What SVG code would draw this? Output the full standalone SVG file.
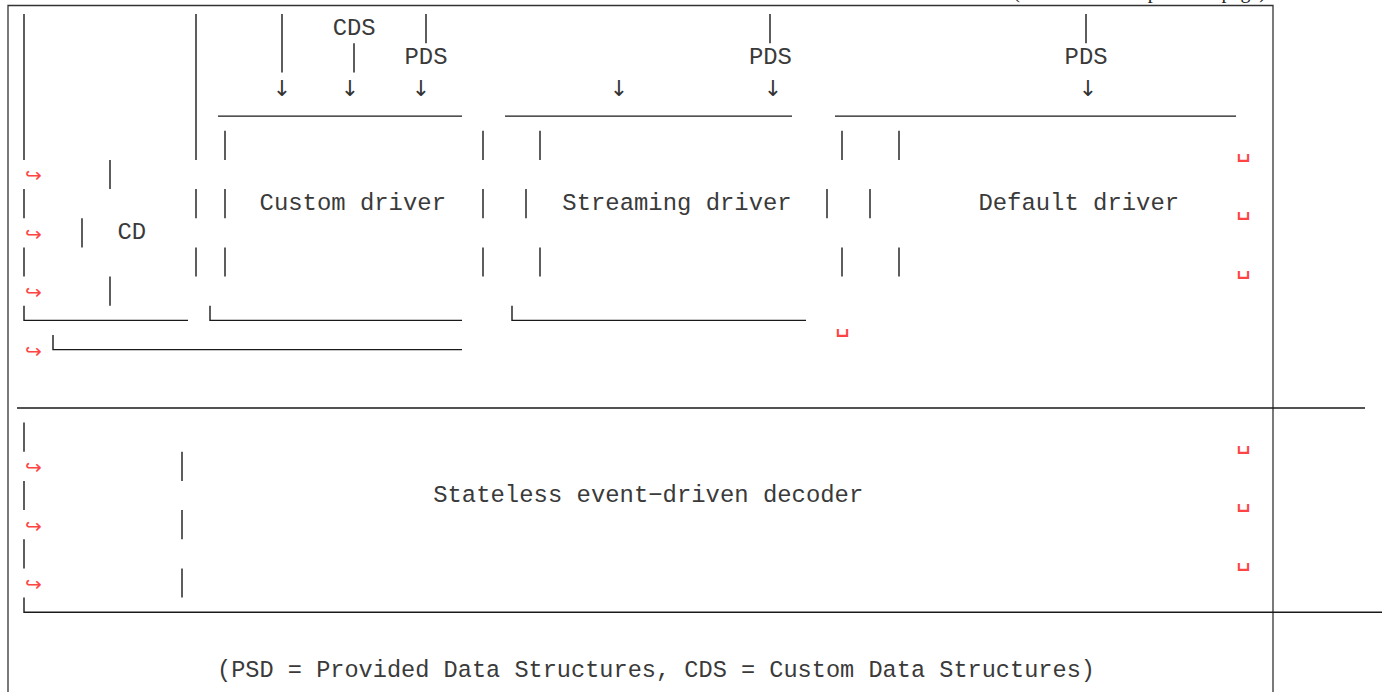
<svg xmlns="http://www.w3.org/2000/svg" width="1382" height="692" viewBox="0 0 1382 692">
<style>
.l{stroke:#1a1a1a;stroke-width:1.4;fill:none}
.f{stroke:#333;stroke-width:1.3;fill:none}
.t{font-family:"Liberation Mono","DejaVu Sans Mono",monospace;font-size:23.9px;fill:#3a3a3a}
.a{font-family:"DejaVu Sans","DejaVu Sans Mono",sans-serif;font-size:22px;fill:#333;text-anchor:middle}
.w{font-family:"DejaVu Sans",sans-serif;font-size:20px;fill:#ff4444}
.s{font-family:"DejaVu Sans Mono",monospace;font-size:25px;fill:#ff4444}
.c{font-family:"Liberation Serif",serif;font-size:20px;fill:#222}
</style>
<rect width="1382" height="692" fill="#fff"/>
<g id="frame">
<text class="c" x="1266" y="-2" text-anchor="end">(continued from previous page)</text>
<path class="f" d="M8 692 V5.5 H1273 V692"/>
</g>
<g id="connectors">
<path class="l" d="M282 14 V72.4 M354 43.2 V72.4 M426 14 V43.2 M770 14 V43.2 M1086 14 V43.2"/>
<text class="t" x="332.7" y="35">CDS</text>
<text class="t" x="404.5" y="64.2">PDS</text>
<text class="t" x="748.9" y="64.2">PDS</text>
<text class="t" x="1064.6" y="64.2">PDS</text>
<text class="a" x="282" y="96">↓︎</text>
<text class="a" x="350" y="96">↓︎</text>
<text class="a" x="421" y="96">↓︎</text>
<text class="a" x="619" y="96">↓︎</text>
<text class="a" x="773" y="96">↓︎</text>
<text class="a" x="1088" y="96">↓︎</text>
</g>
<g id="node-cd">
<path class="l" d="M24 14 V159.9 M24 189.1 V218.3 M24 247.4 V276.6 M24 305.8 V320.4 H188 M110 159.9 V189.1 M110 276.6 V305.8 M82 218.3 V247.4 M196 14 V159.9 M196 189.1 V218.3 M196 247.4 V276.6 M53 335 V349.6 H462"/>
<text class="t" x="117.5" y="239.3">CD</text>
</g>
<g id="node-custom-driver">
<path class="l" d="M218 116.1 H462 M225 130.7 V159.9 M225 189.1 V218.3 M225 247.4 V276.6 M483 130.7 V159.9 M483 189.1 V218.3 M483 247.4 V276.6 M210 305.8 V320.4 H462"/>
<text class="t" x="259.6" y="210.1">Custom driver</text>
</g>
<g id="node-streaming-driver">
<path class="l" d="M505 116.1 H792 M540 130.7 V159.9 M526 189.1 V218.3 M540 247.4 V276.6 M842 130.7 V159.9 M827 189.1 V218.3 M842 247.4 V276.6 M512 305.8 V320.4 H806"/>
<text class="t" x="562.3" y="210.1">Streaming driver</text>
</g>
<g id="node-default-driver">
<path class="l" d="M835 116.1 H1236 M899 130.7 V159.9 M870 189.1 V218.3 M899 247.4 V276.6"/>
<text class="t" x="978.4" y="210.1">Default driver</text>
</g>
<g id="node-decoder">
<path class="l" d="M17 408 H1365 M24 422.5 V451.7 M24 480.9 V510.1 M24 539.3 V568.4 M182 451.7 V480.9 M182 510.1 V539.3 M182 568.4 V597.6 M24 597.6 V612.2 H1382"/>
<text class="t" x="433.2" y="501.9">Stateless event−driven decoder</text>
</g>
<g id="wrap-markers">
<text class="w" x="25" y="182">↪︎</text>
<text class="w" x="25" y="241">↪︎</text>
<text class="w" x="25" y="299">↪︎</text>
<text class="w" x="25" y="358">↪︎</text>
<text class="w" x="25" y="474">↪︎</text>
<text class="w" x="25" y="533">↪︎</text>
<text class="w" x="25" y="591">↪︎</text>
<text class="s" x="1236" y="156">␣</text>
<text class="s" x="1236" y="214">␣</text>
<text class="s" x="1236" y="273">␣</text>
<text class="s" x="835" y="331">␣</text>
<text class="s" x="1236" y="448">␣</text>
<text class="s" x="1236" y="506">␣</text>
<text class="s" x="1236" y="565">␣</text>
</g>
<g id="legend">
<text class="t" x="217" y="677" textLength="878" lengthAdjust="spacingAndGlyphs">(PSD = Provided Data Structures, CDS = Custom Data Structures)</text>
</g>
</svg>
